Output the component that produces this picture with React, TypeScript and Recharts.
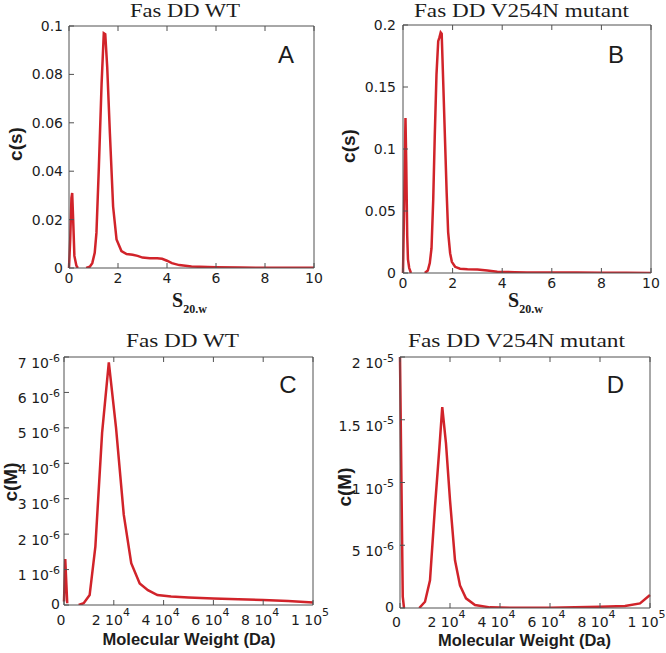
import React from 'react';
import { LineChart, Line, XAxis, YAxis } from 'recharts';

// A: Fas DD WT, c(s) against s20,w
const sWt = [0, 0.05, 0.1, 0.13, 0.17, 0.22, 0.3, 0.36, 0.5, 0.7, 0.85, 0.95, 1.05, 1.12, 1.22, 1.33, 1.42, 1.48, 1.56, 1.67, 1.8, 1.94, 2.14, 2.35, 2.6, 2.8, 3.0, 3.3, 3.6, 3.8, 4.0, 4.2, 4.5, 5.0, 6.0, 7.0, 8.0, 9.0, 10.0];
const csWt = [0, 0.012, 0.029, 0.031, 0.02, 0.005, 0.001, 0, null, 0, 0.0005, 0.002, 0.0063, 0.0145, 0.042, 0.076, 0.097, 0.0966, 0.083, 0.0555, 0.0254, 0.0118, 0.007, 0.0058, 0.0055, 0.005, 0.0043, 0.004, 0.004, 0.0038, 0.003, 0.002, 0.0012, 0.0006, 0.0003, 0.0002, 0.0001, 0.0001, 0.0001];

// B: Fas DD V254N mutant, c(s) against s20,w
const sMut = [0, 0.05, 0.1, 0.13, 0.17, 0.2, 0.25, 0.32, 0.6, 0.88, 1.0, 1.08, 1.15, 1.22, 1.28, 1.35, 1.42, 1.47, 1.52, 1.56, 1.62, 1.69, 1.76, 1.82, 1.9, 1.97, 2.1, 2.3, 2.6, 3.0, 3.4, 3.8, 4.5, 5.0, 6.0, 7.0, 8.0, 9.0, 10.0];
const csMut = [0, 0.06, 0.125, 0.09, 0.03, 0.011, 0.004, 0, null, 0, 0.002, 0.008, 0.02, 0.06, 0.11, 0.16, 0.187, 0.19, 0.194, 0.193, 0.155, 0.11, 0.065, 0.033, 0.016, 0.009, 0.005, 0.0035, 0.003, 0.0028, 0.002, 0.001, 0.0007, 0.0005, 0.0004, 0.0004, 0.0003, 0.0002, 0.0001];

// C: Fas DD WT, c(M) against molecular weight
const mwWt = [0, 500, 1300, 3500, 5900, 7900, 10300, 12600, 15300, 18000, 20900, 24000, 27000, 30400, 33700, 37500, 43000, 50000, 60000, 70000, 80000, 90000, 100000];
const cmWt = [0.1e-6, 1.3e-6, 0.05e-6, null, 0, 0.05e-6, 0.28e-6, 1.65e-6, 4.86e-6, 6.85e-6, 5.0e-6, 2.55e-6, 1.18e-6, 0.61e-6, 0.42e-6, 0.28e-6, 0.24e-6, 0.21e-6, 0.18e-6, 0.16e-6, 0.14e-6, 0.11e-6, 0.07e-6];

// D: Fas DD V254N mutant, c(M) against molecular weight
const mwMut = [0, 1100, 1600, 4500, 7700, 10000, 12000, 14000, 15700, 16900, 18400, 20000, 22000, 24000, 26400, 30000, 36000, 45000, 60000, 80000, 90000, 96000, 100000];
const cmMut = [2.0e-5, 0.9e-6, 0, null, 0, 0.5e-6, 2.2e-6, 8.1e-6, 12.6e-6, 16.0e-6, 13.1e-6, 8.6e-6, 3.8e-6, 1.8e-6, 0.77e-6, 0.24e-6, 0.05e-6, 0.02e-6, 0.02e-6, 0.1e-6, 0.16e-6, 0.37e-6, 1.04e-6];

const sTicks = [0, 2, 4, 6, 8, 10];
const sTickLabels = ['0', '2', '4', '6', '8', '10'];
const csWtTicks = [0, 0.02, 0.04, 0.06, 0.08, 0.1];
const csWtTickLabels = ['0', '0.02', '0.04', '0.06', '0.08', '0.1'];
const csMutTicks = [0, 0.05, 0.1, 0.15, 0.2];
const csMutTickLabels = ['0', '0.05', '0.1', '0.15', '0.2'];
const mwTicks = [0, 20000, 40000, 60000, 80000, 100000];
const mwTickLabels = ['0', '2 10^4', '4 10^4', '6 10^4', '8 10^4', '1 10^5'];
const cmWtTicks = [0, 1e-6, 2e-6, 3e-6, 4e-6, 5e-6, 6e-6, 7e-6];
const cmWtTickLabels = ['0', '1 10^-6', '2 10^-6', '3 10^-6', '4 10^-6', '5 10^-6', '6 10^-6', '7 10^-6'];
const cmMutTicks = [0, 5e-6, 1e-5, 1.5e-5, 2e-5];
const cmMutTickLabels = ['0', '5 10^-6', '1 10^-5', '1.5 10^-5', '2 10^-5'];

const titles = ['Fas DD WT', 'Fas DD V254N mutant', 'Fas DD WT', 'Fas DD V254N mutant'];
const letters = ['A', 'B', 'C', 'D'];

const FRAME = '#505050';
const RED = '#d1232a';
const INK = '#1c1c1c';
const TICK_FONT = '"DejaVu Sans", sans-serif';

const zip = (xs: number[], ys: (number | null)[]) => xs.map((x, i) => ({ x, y: ys[i] }));

const labelFor = (ticks: number[], labels: string[], v: number) => {
  const i = ticks.findIndex(t => Math.abs(t - v) <= Math.abs(v) * 1e-6 + 1e-15);
  return i >= 0 ? labels[i] : String(v);
};

function TickText({ x, y, text, anchor, supDy }: { x: number; y: number; text: string; anchor: string; supDy: number }) {
  const [base, exp] = text.split('^');
  return (
    <text x={x} y={y} textAnchor={anchor} fontFamily={TICK_FONT} fontSize={14} fill={INK}>
      {base}
      {exp && <tspan fontSize={11} dy={supDy}>{exp}</tspan>}
    </text>
  );
}

type TickCfg = { ticks: number[]; labels: string[] };

type PanelProps = {
  left: number; top: number; width: number; height: number;
  box: { l: number; r: number; t: number; b: number };
  data: { x: number; y: number | null }[];
  xDomain: [number, number]; yDomain: [number, number];
  xt: TickCfg; yt: TickCfg;
  xDx: number; xBase: number; xSup: number;
  yGap: number; yBase: number; yBaseExp: number; ySup: number;
};

function Panel(p: PanelProps) {
  const bottomTick = (props: any) => {
    const { x, y, payload } = props;
    const text = labelFor(p.xt.ticks, p.xt.labels, payload.value);
    return (
      <g>
        <line x1={x} y1={y} x2={x} y2={y - 5} stroke={FRAME} strokeWidth={1} />
        <TickText x={x + p.xDx} y={y + p.xBase} text={text} anchor="middle" supDy={p.xSup} />
      </g>
    );
  };
  const topTick = (props: any) => {
    const { x, y } = props;
    return <line x1={x} y1={y} x2={x} y2={y + 5} stroke={FRAME} strokeWidth={1} />;
  };
  const leftTick = (props: any) => {
    const { x, y, payload } = props;
    const text = labelFor(p.yt.ticks, p.yt.labels, payload.value);
    const hasExp = text.includes('^');
    return (
      <g>
        <line x1={x} y1={y} x2={x + 5} y2={y} stroke={FRAME} strokeWidth={1} />
        <TickText x={x - p.yGap} y={y + (hasExp ? p.yBaseExp : p.yBase)} text={text} anchor="end" supDy={p.ySup} />
      </g>
    );
  };
  const rightTick = (props: any) => {
    const { x, y } = props;
    return <line x1={x} y1={y} x2={x - 5} y2={y} stroke={FRAME} strokeWidth={1} />;
  };
  const axisLine = { stroke: FRAME, strokeWidth: 1 };
  return (
    <div style={{ position: 'absolute', left: p.left, top: p.top }}>
      <LineChart width={p.width} height={p.height} data={p.data} margin={{ top: 0, right: 0, bottom: 0, left: 0 }}>
        <XAxis dataKey="x" type="number" domain={p.xDomain} ticks={p.xt.ticks} interval={0}
          height={p.box.b} tickSize={0} tickMargin={0} axisLine={axisLine} tickLine={false} tick={bottomTick} />
        <XAxis xAxisId="top" orientation="top" dataKey="x" type="number" domain={p.xDomain} ticks={p.xt.ticks} interval={0}
          height={p.box.t} tickSize={0} tickMargin={0} axisLine={axisLine} tickLine={false} tick={topTick} />
        <YAxis type="number" domain={p.yDomain} ticks={p.yt.ticks} interval={0} allowDataOverflow
          width={p.box.l} tickSize={0} tickMargin={0} axisLine={axisLine} tickLine={false} tick={leftTick} />
        <YAxis yAxisId="right" orientation="right" type="number" domain={p.yDomain} ticks={p.yt.ticks} interval={0}
          width={p.box.r} tickSize={0} tickMargin={0} axisLine={axisLine} tickLine={false} tick={rightTick} />
        <Line dataKey="y" type="linear" stroke={RED} strokeWidth={2.5} dot={false} activeDot={false}
          isAnimationActive={false} connectNulls={false} />
      </LineChart>
    </div>
  );
}

export default function App() {
  const serif = '"Liberation Serif", "Times New Roman", serif';
  const sans = '"Liberation Sans", Arial, sans-serif';
  return (
    <div style={{ position: 'absolute', left: 0, top: 0, width: 666, height: 653, background: '#fff' }}>
      <Panel left={0} top={0} width={333} height={320} box={{ l: 69, r: 19, t: 26, b: 52 }}
        data={zip(sWt, csWt)} xDomain={[0, 10]} yDomain={[0, 0.1]}
        xt={{ ticks: sTicks, labels: sTickLabels }} yt={{ ticks: csWtTicks, labels: csWtTickLabels }}
        xDx={0} xBase={15} xSup={-8} yGap={6} yBase={5} yBaseExp={10} ySup={-6} />
      <Panel left={333} top={0} width={333} height={320} box={{ l: 70, r: 15, t: 25, b: 47 }}
        data={zip(sMut, csMut)} xDomain={[0, 10]} yDomain={[0, 0.2]}
        xt={{ ticks: sTicks, labels: sTickLabels }} yt={{ ticks: csMutTicks, labels: csMutTickLabels }}
        xDx={0} xBase={15} xSup={-8} yGap={7} yBase={5} yBaseExp={10} ySup={-6} />
      <Panel left={0} top={320} width={333} height={333} box={{ l: 64, r: 20, t: 37, b: 48 }}
        data={zip(mwWt, cmWt)} xDomain={[0, 100000]} yDomain={[0, 7e-6]}
        xt={{ ticks: mwTicks, labels: mwTickLabels }} yt={{ ticks: cmWtTicks, labels: cmWtTickLabels }}
        xDx={-3} xBase={19.5} xSup={-8.5} yGap={4} yBase={3.5} yBaseExp={10.5} ySup={-6} />
      <Panel left={333} top={320} width={333} height={333} box={{ l: 67, r: 16, t: 37, b: 45 }}
        data={zip(mwMut, cmMut)} xDomain={[0, 100000]} yDomain={[0, 2e-5]}
        xt={{ ticks: mwTicks, labels: mwTickLabels }} yt={{ ticks: cmMutTicks, labels: cmMutTickLabels }}
        xDx={-3.5} xBase={18.5} xSup={-8.5} yGap={6} yBase={4} yBaseExp={11} ySup={-6.5} />
      <svg width={666} height={653} style={{ position: 'absolute', left: 0, top: 0, pointerEvents: 'none' }}>
        <g fontFamily={serif} fontSize={19} fill={INK} textAnchor="middle">
          <text x={185} y={17} textLength={110} lengthAdjust="spacingAndGlyphs">{titles[0]}</text>
          <text x={521.5} y={17} textLength={215} lengthAdjust="spacingAndGlyphs">{titles[1]}</text>
          <text x={182.5} y={346.5} textLength={113} lengthAdjust="spacingAndGlyphs">{titles[2]}</text>
          <text x={516.5} y={346.5} textLength={217} lengthAdjust="spacingAndGlyphs">{titles[3]}</text>
        </g>
        <g fontFamily={sans} fontSize={24} fill={INK} textAnchor="middle">
          <text x={286} y={63}>{letters[0]}</text>
          <text x={616} y={63}>{letters[1]}</text>
          <text x={288} y={393}>{letters[2]}</text>
          <text x={615.5} y={393}>{letters[3]}</text>
        </g>
        <g fontFamily={sans} fontSize={19} fontWeight="bold" fill={INK} textAnchor="middle" dominantBaseline="central">
          <text transform="translate(15.5,144) rotate(-90)">c(s)</text>
          <text transform="translate(348.5,146) rotate(-90)">c(s)</text>
          <text transform="translate(10.5,482) rotate(-90)">c(M)</text>
          <text transform="translate(344.5,487) rotate(-90)">c(M)</text>
        </g>
        <g fontFamily={serif} fontWeight="bold" fill={INK}>
          <text x={172} y={307} fontSize={20}>S<tspan fontSize={12} dy={6}>20.w</tspan></text>
          <text x={508} y={306.5} fontSize={20}>S<tspan fontSize={12} dy={6}>20.w</tspan></text>
        </g>
        <g fontFamily={sans} fontSize={16.5} fontWeight="bold" fill={INK} textAnchor="middle">
          <text x={189} y={645}>Molecular Weight (Da)</text>
          <text x={524.5} y={646}>Molecular Weight (Da)</text>
        </g>
      </svg>
    </div>
  );
}
